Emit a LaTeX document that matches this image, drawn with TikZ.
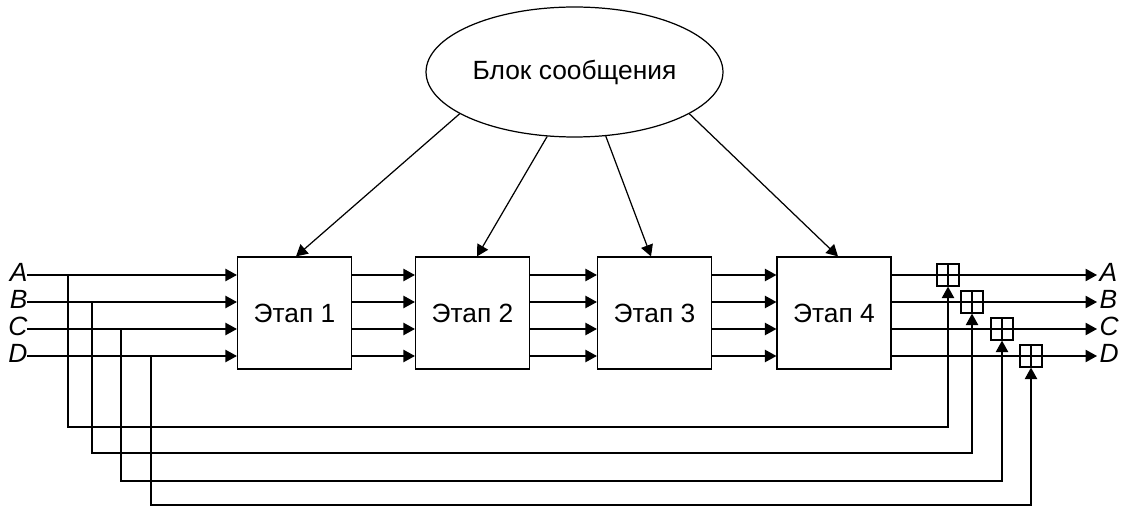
\documentclass[tikz,border=0pt]{standalone}
\usepackage{fontspec}
\setmainfont{Liberation Sans}
\usetikzlibrary{arrows.meta,shapes.geometric,calc}
\begin{document}
\begin{tikzpicture}[x=0.02cm,y=-0.02cm, line width=0.7pt,
  arr/.style={-{Triangle[length=6.5pt,width=7pt]}},
  stage/.style={draw, minimum width=2.28cm, minimum height=2.24cm, inner sep=0, font=\fontsize{15}{18}\selectfont},
  adder/.style={draw, minimum size=0.44cm, inner sep=0},
  lbl/.style={font=\fontsize{15}{18}\selectfont\itshape, inner sep=0}]
\useasboundingbox (0,0) rectangle (1125,506);
\node[ellipse, draw, minimum width=5.94cm, minimum height=2.6cm, inner sep=0, font=\fontsize{15}{18}\selectfont] (msg) at (574.5,72) {Блок сообщения};
\node[stage] (b1) at (294.5,313) {Этап 1};
\node[stage] (b2) at (472.5,313) {Этап 2};
\node[stage] (b3) at (654.5,313) {Этап 3};
\node[stage] (b4) at (834,313) {Этап 4};
\foreach \n/\y/\tx/\by/\ax in {A/275/68/427/948, B/302/92/453/972, C/329/121/481/1002, D/356/151/505/1031} {
  \coordinate (s\n) at (27,\y);
  \coordinate (o\n) at (1097,\y);
  \coordinate (t\n) at (\tx,\y);
  \coordinate (f\n) at (\ax,\by);
  \node[lbl, anchor=east] (l\n) at (28,\y-3) {\n};
  \node[lbl, anchor=west] (r\n) at (1099,\y-3) {\n};
  \draw[arr] (s\n) -- (s\n -| b1.west);
  \draw[arr] (s\n -| b1.east) -- (s\n -| b2.west);
  \draw[arr] (s\n -| b2.east) -- (s\n -| b3.west);
  \draw[arr] (s\n -| b3.east) -- (s\n -| b4.west);
  \draw[arr] (s\n -| b4.east) -- (o\n);
  \node[adder] (a\n) at (\ax,\y) {};
  \draw (a\n.north) -- (a\n.south);
  \draw[arr] (t\n) |- (f\n) -- (a\n.south);
}
\draw[arr] (msg.200.9) -- ([xshift=0.03cm]b1.north);
\draw[arr] (msg.247) -- ([xshift=0.09cm]b2.north);
\draw[arr] (msg.296.6) -- ([xshift=-0.07cm]b3.north);
\draw[arr] (msg.340.9) -- ([xshift=0.08cm]b4.north);
\end{tikzpicture}
\end{document}
